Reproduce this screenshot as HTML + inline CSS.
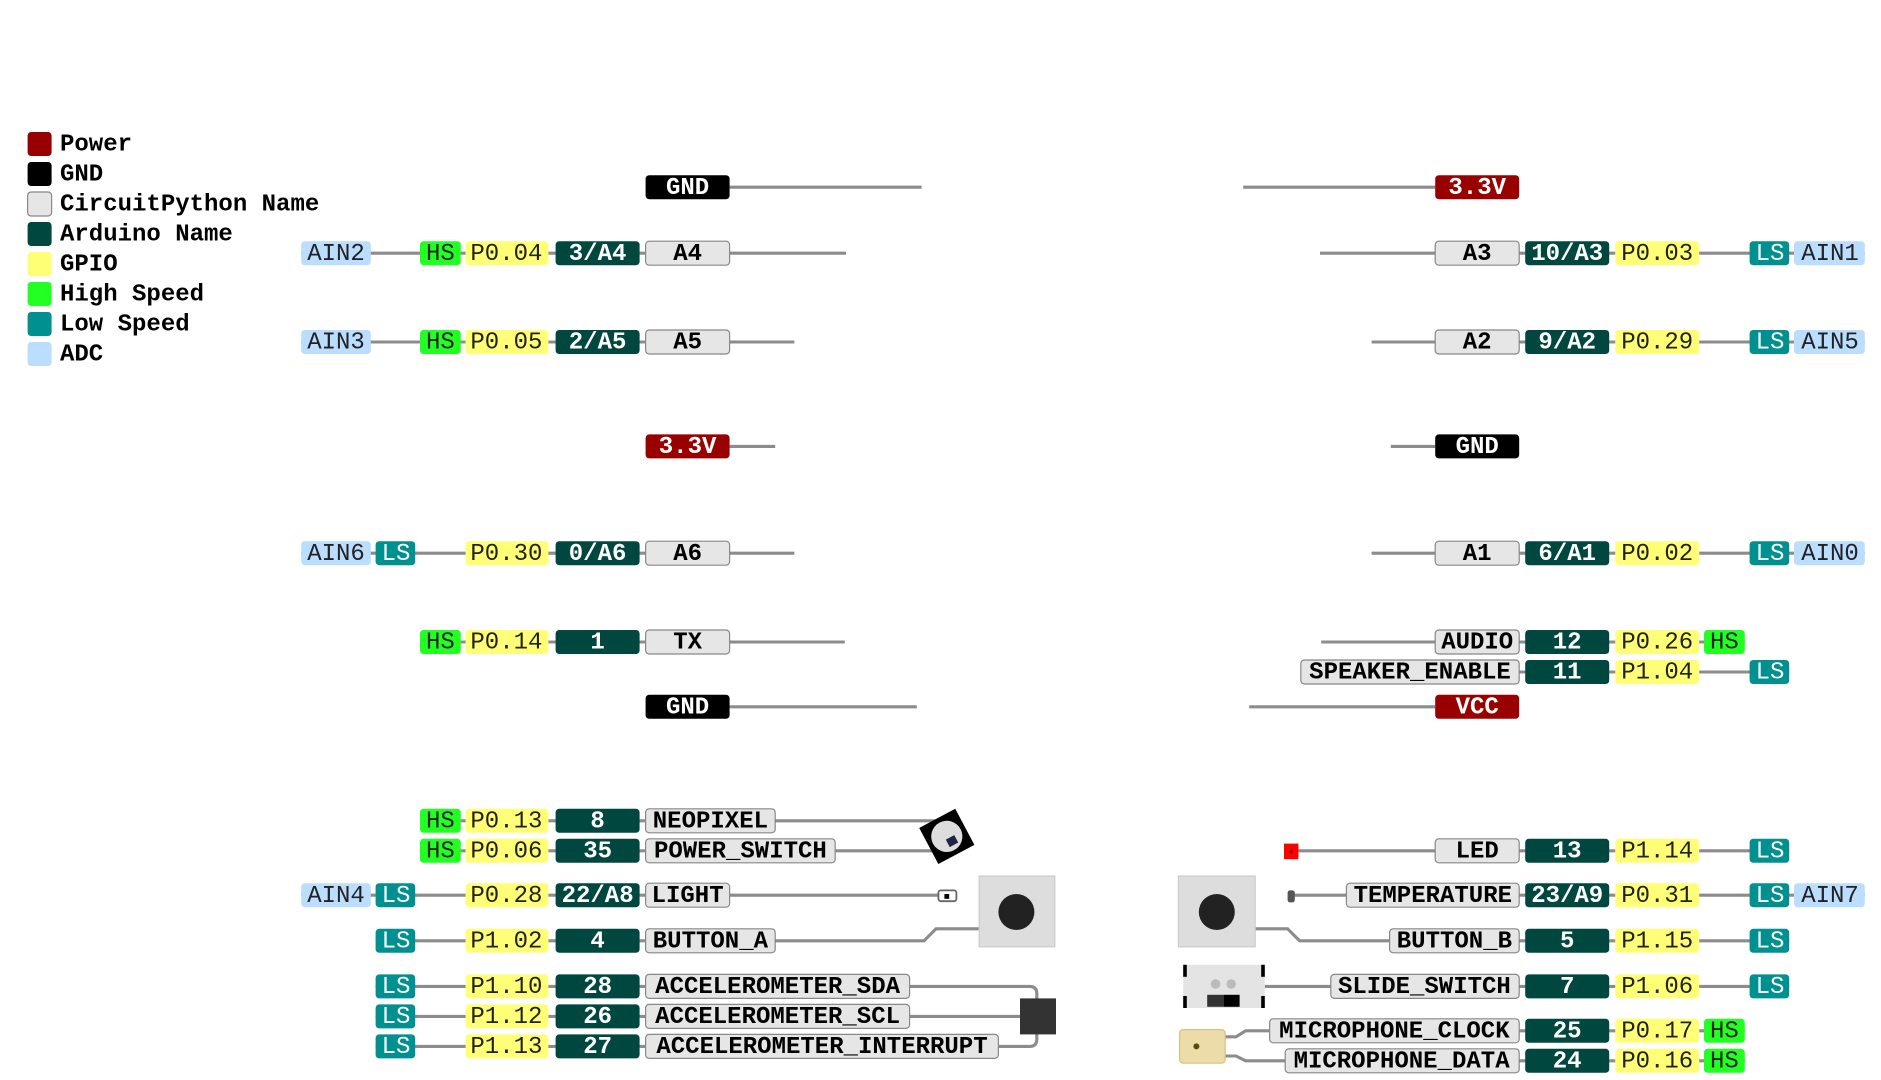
<!DOCTYPE html>
<html><head><meta charset="utf-8"><style>
html,body{margin:0;padding:0;background:#fff;}
svg{display:block}
text{font-family:"Liberation Mono",monospace;font-size:20px;text-anchor:middle;dominant-baseline:central}
.b{font-weight:bold}
.w{fill:#fff}
.k{fill:#000}
.d{fill:#222}
.l{stroke:#8c8c8c;stroke-width:2.6;fill:none}
.leg text{text-anchor:start;font-weight:bold}
</style></head><body>
<svg width="1881" height="1080" viewBox="0 0 1567.5 900" xmlns="http://www.w3.org/2000/svg">
<!-- legend -->
<g class="leg">
<rect x="23" y="110" width="20" height="20" rx="3" fill="#900"/><text x="50" y="121">Power</text>
<rect x="23" y="135" width="20" height="20" rx="3" fill="#000"/><text x="50" y="146">GND</text>
<rect x="23" y="160" width="20" height="20" rx="3" fill="#e6e6e6" stroke="#888"/><text x="50" y="171">CircuitPython Name</text>
<rect x="23" y="185" width="20" height="20" rx="3" fill="#00473f"/><text x="50" y="196">Arduino Name</text>
<rect x="23" y="210" width="20" height="20" rx="3" fill="#ffff77"/><text x="50" y="221">GPIO</text>
<rect x="23" y="235" width="20" height="20" rx="3" fill="#22ff22"/><text x="50" y="246">High Speed</text>
<rect x="23" y="260" width="20" height="20" rx="3" fill="#009090"/><text x="50" y="271">Low Speed</text>
<rect x="23" y="285" width="20" height="20" rx="3" fill="#bbddff"/><text x="50" y="296">ADC</text>
</g>

<!-- lines -->
<path class="l" d="M608,156H768 M251,211H705 M251,285H662 M608,372H646 M251,461H662 M350,535H704 M608,589H764
M350,684H780 M350,709H780 M251,746H785 M313,784H770L780,774H816
M313,822H858Q864,822 864,828V836 M313,847H852 M313,872H858Q864,872 864,866V858
M1036,156H1196 M1100,211H1554 M1143,285H1554 M1159,372H1196 M1143,461H1554 M1101,535H1454 M1084,560H1491 M1041,589H1196
M1076,709H1491 M1076,746H1554 M1046,774H1073L1083,784H1491 M1054,822H1491
M1021,864H1030L1038,859H1454 M1021,880H1030L1038,884H1454"/>

<!-- left column -->
<g>
<rect x="538" y="146" width="70" height="20" rx="3" fill="#000"/><text x="573" y="157" class="b w">GND</text>

<rect x="251" y="201" width="58" height="20" rx="3" fill="#bbddff"/><text x="280" y="212" class="d">AIN2</text>
<rect x="350" y="201" width="34" height="20" rx="3" fill="#22ff22"/><text x="367" y="212" class="d">HS</text>
<rect x="388" y="201" width="69" height="20" rx="3" fill="#ffff77"/><text x="422" y="212" class="d">P0.04</text>
<rect x="463" y="201" width="70" height="20" rx="3" fill="#00473f"/><text x="498" y="212" class="b w">3/A4</text>
<rect x="538" y="201" width="70" height="20" rx="3" fill="#e6e6e6" stroke="#888"/><text x="573" y="212" class="b k">A4</text>

<rect x="251" y="275" width="58" height="20" rx="3" fill="#bbddff"/><text x="280" y="286" class="d">AIN3</text>
<rect x="350" y="275" width="34" height="20" rx="3" fill="#22ff22"/><text x="367" y="286" class="d">HS</text>
<rect x="388" y="275" width="69" height="20" rx="3" fill="#ffff77"/><text x="422" y="286" class="d">P0.05</text>
<rect x="463" y="275" width="70" height="20" rx="3" fill="#00473f"/><text x="498" y="286" class="b w">2/A5</text>
<rect x="538" y="275" width="70" height="20" rx="3" fill="#e6e6e6" stroke="#888"/><text x="573" y="286" class="b k">A5</text>

<rect x="538" y="362" width="70" height="20" rx="3" fill="#900"/><text x="573" y="373" class="b w">3.3V</text>

<rect x="251" y="451" width="58" height="20" rx="3" fill="#bbddff"/><text x="280" y="462" class="d">AIN6</text>
<rect x="313" y="451" width="33" height="20" rx="3" fill="#009090"/><text x="330" y="462" class="w">LS</text>
<rect x="388" y="451" width="69" height="20" rx="3" fill="#ffff77"/><text x="422" y="462" class="d">P0.30</text>
<rect x="463" y="451" width="70" height="20" rx="3" fill="#00473f"/><text x="498" y="462" class="b w">0/A6</text>
<rect x="538" y="451" width="70" height="20" rx="3" fill="#e6e6e6" stroke="#888"/><text x="573" y="462" class="b k">A6</text>

<rect x="350" y="525" width="34" height="20" rx="3" fill="#22ff22"/><text x="367" y="536" class="d">HS</text>
<rect x="388" y="525" width="69" height="20" rx="3" fill="#ffff77"/><text x="422" y="536" class="d">P0.14</text>
<rect x="463" y="525" width="70" height="20" rx="3" fill="#00473f"/><text x="498" y="536" class="b w">1</text>
<rect x="538" y="525" width="70" height="20" rx="3" fill="#e6e6e6" stroke="#888"/><text x="573" y="536" class="b k">TX</text>

<rect x="538" y="579" width="70" height="20" rx="3" fill="#000"/><text x="573" y="590" class="b w">GND</text>

<rect x="350" y="674" width="34" height="20" rx="3" fill="#22ff22"/><text x="367" y="685" class="d">HS</text>
<rect x="388" y="674" width="69" height="20" rx="3" fill="#ffff77"/><text x="422" y="685" class="d">P0.13</text>
<rect x="463" y="674" width="70" height="20" rx="3" fill="#00473f"/><text x="498" y="685" class="b w">8</text>
<rect x="538" y="674" width="108" height="20" rx="3" fill="#e6e6e6" stroke="#888"/><text x="592" y="685" class="b k">NEOPIXEL</text>

<rect x="350" y="699" width="34" height="20" rx="3" fill="#22ff22"/><text x="367" y="710" class="d">HS</text>
<rect x="388" y="699" width="69" height="20" rx="3" fill="#ffff77"/><text x="422" y="710" class="d">P0.06</text>
<rect x="463" y="699" width="70" height="20" rx="3" fill="#00473f"/><text x="498" y="710" class="b w">35</text>
<rect x="538" y="699" width="158" height="20" rx="3" fill="#e6e6e6" stroke="#888"/><text x="617" y="710" class="b k">POWER_SWITCH</text>

<rect x="251" y="736" width="58" height="20" rx="3" fill="#bbddff"/><text x="280" y="747" class="d">AIN4</text>
<rect x="313" y="736" width="33" height="20" rx="3" fill="#009090"/><text x="330" y="747" class="w">LS</text>
<rect x="388" y="736" width="69" height="20" rx="3" fill="#ffff77"/><text x="422" y="747" class="d">P0.28</text>
<rect x="463" y="736" width="70" height="20" rx="3" fill="#00473f"/><text x="498" y="747" class="b w">22/A8</text>
<rect x="538" y="736" width="70" height="20" rx="3" fill="#e6e6e6" stroke="#888"/><text x="573" y="747" class="b k">LIGHT</text>

<rect x="313" y="774" width="33" height="20" rx="3" fill="#009090"/><text x="330" y="785" class="w">LS</text>
<rect x="388" y="774" width="69" height="20" rx="3" fill="#ffff77"/><text x="422" y="785" class="d">P1.02</text>
<rect x="463" y="774" width="70" height="20" rx="3" fill="#00473f"/><text x="498" y="785" class="b w">4</text>
<rect x="538" y="774" width="108" height="20" rx="3" fill="#e6e6e6" stroke="#888"/><text x="592" y="785" class="b k">BUTTON_A</text>

<rect x="313" y="812" width="33" height="20" rx="3" fill="#009090"/><text x="330" y="823" class="w">LS</text>
<rect x="388" y="812" width="69" height="20" rx="3" fill="#ffff77"/><text x="422" y="823" class="d">P1.10</text>
<rect x="463" y="812" width="70" height="20" rx="3" fill="#00473f"/><text x="498" y="823" class="b w">28</text>
<rect x="538" y="812" width="220" height="20" rx="3" fill="#e6e6e6" stroke="#888"/><text x="648" y="823" class="b k">ACCELEROMETER_SDA</text>

<rect x="313" y="837" width="33" height="20" rx="3" fill="#009090"/><text x="330" y="848" class="w">LS</text>
<rect x="388" y="837" width="69" height="20" rx="3" fill="#ffff77"/><text x="422" y="848" class="d">P1.12</text>
<rect x="463" y="837" width="70" height="20" rx="3" fill="#00473f"/><text x="498" y="848" class="b w">26</text>
<rect x="538" y="837" width="220" height="20" rx="3" fill="#e6e6e6" stroke="#888"/><text x="648" y="848" class="b k">ACCELEROMETER_SCL</text>

<rect x="313" y="862" width="33" height="20" rx="3" fill="#009090"/><text x="330" y="873" class="w">LS</text>
<rect x="388" y="862" width="69" height="20" rx="3" fill="#ffff77"/><text x="422" y="873" class="d">P1.13</text>
<rect x="463" y="862" width="70" height="20" rx="3" fill="#00473f"/><text x="498" y="873" class="b w">27</text>
<rect x="538" y="862" width="294" height="20" rx="3" fill="#e6e6e6" stroke="#888"/><text x="685" y="873" class="b k">ACCELEROMETER_INTERRUPT</text>
</g>

<!-- left components -->
<g transform="translate(789,697) rotate(-28)"><rect x="-17" y="-17" width="34" height="34" fill="#000"/><circle r="13" fill="#ddd"/><rect x="-2" y="2" width="8" height="7" fill="#224"/></g>
<rect x="782" y="742" width="15" height="9" rx="2" fill="#fff" stroke="#666" stroke-width="1.5"/><rect x="787" y="745" width="4" height="4" fill="#000"/>
<rect x="816" y="730" width="63" height="59" fill="#ddd" stroke="#ccc"/><circle cx="847" cy="760" r="15" fill="#222"/>
<rect x="850" y="832" width="30" height="30" fill="#333"/>

<!-- right column -->
<g>
<rect x="1196" y="146" width="70" height="20" rx="3" fill="#900"/><text x="1231" y="157" class="b w">3.3V</text>

<rect x="1196" y="201" width="70" height="20" rx="3" fill="#e6e6e6" stroke="#888"/><text x="1231" y="212" class="b k">A3</text>
<rect x="1271" y="201" width="70" height="20" rx="3" fill="#00473f"/><text x="1306" y="212" class="b w">10/A3</text>
<rect x="1346" y="201" width="70" height="20" rx="3" fill="#ffff77"/><text x="1381" y="212" class="d">P0.03</text>
<rect x="1458" y="201" width="33" height="20" rx="3" fill="#009090"/><text x="1475" y="212" class="w">LS</text>
<rect x="1495" y="201" width="59" height="20" rx="3" fill="#bbddff"/><text x="1525" y="212" class="d">AIN1</text>

<rect x="1196" y="275" width="70" height="20" rx="3" fill="#e6e6e6" stroke="#888"/><text x="1231" y="286" class="b k">A2</text>
<rect x="1271" y="275" width="70" height="20" rx="3" fill="#00473f"/><text x="1306" y="286" class="b w">9/A2</text>
<rect x="1346" y="275" width="70" height="20" rx="3" fill="#ffff77"/><text x="1381" y="286" class="d">P0.29</text>
<rect x="1458" y="275" width="33" height="20" rx="3" fill="#009090"/><text x="1475" y="286" class="w">LS</text>
<rect x="1495" y="275" width="59" height="20" rx="3" fill="#bbddff"/><text x="1525" y="286" class="d">AIN5</text>

<rect x="1196" y="362" width="70" height="20" rx="3" fill="#000"/><text x="1231" y="373" class="b w">GND</text>

<rect x="1196" y="451" width="70" height="20" rx="3" fill="#e6e6e6" stroke="#888"/><text x="1231" y="462" class="b k">A1</text>
<rect x="1271" y="451" width="70" height="20" rx="3" fill="#00473f"/><text x="1306" y="462" class="b w">6/A1</text>
<rect x="1346" y="451" width="70" height="20" rx="3" fill="#ffff77"/><text x="1381" y="462" class="d">P0.02</text>
<rect x="1458" y="451" width="33" height="20" rx="3" fill="#009090"/><text x="1475" y="462" class="w">LS</text>
<rect x="1495" y="451" width="59" height="20" rx="3" fill="#bbddff"/><text x="1525" y="462" class="d">AIN0</text>

<rect x="1196" y="525" width="70" height="20" rx="3" fill="#e6e6e6" stroke="#888"/><text x="1231" y="536" class="b k">AUDIO</text>
<rect x="1271" y="525" width="70" height="20" rx="3" fill="#00473f"/><text x="1306" y="536" class="b w">12</text>
<rect x="1346" y="525" width="70" height="20" rx="3" fill="#ffff77"/><text x="1381" y="536" class="d">P0.26</text>
<rect x="1420" y="525" width="34" height="20" rx="3" fill="#22ff22"/><text x="1437" y="536" class="d">HS</text>

<rect x="1084" y="550" width="182" height="20" rx="3" fill="#e6e6e6" stroke="#888"/><text x="1175" y="561" class="b k">SPEAKER_ENABLE</text>
<rect x="1271" y="550" width="70" height="20" rx="3" fill="#00473f"/><text x="1306" y="561" class="b w">11</text>
<rect x="1346" y="550" width="70" height="20" rx="3" fill="#ffff77"/><text x="1381" y="561" class="d">P1.04</text>
<rect x="1458" y="550" width="33" height="20" rx="3" fill="#009090"/><text x="1475" y="561" class="w">LS</text>

<rect x="1196" y="579" width="70" height="20" rx="3" fill="#900"/><text x="1231" y="590" class="b w">VCC</text>

<rect x="1196" y="699" width="70" height="20" rx="3" fill="#e6e6e6" stroke="#888"/><text x="1231" y="710" class="b k">LED</text>
<rect x="1271" y="699" width="70" height="20" rx="3" fill="#00473f"/><text x="1306" y="710" class="b w">13</text>
<rect x="1346" y="699" width="70" height="20" rx="3" fill="#ffff77"/><text x="1381" y="710" class="d">P1.14</text>
<rect x="1458" y="699" width="33" height="20" rx="3" fill="#009090"/><text x="1475" y="710" class="w">LS</text>

<rect x="1122" y="736" width="144" height="20" rx="3" fill="#e6e6e6" stroke="#888"/><text x="1194" y="747" class="b k">TEMPERATURE</text>
<rect x="1271" y="736" width="70" height="20" rx="3" fill="#00473f"/><text x="1306" y="747" class="b w">23/A9</text>
<rect x="1346" y="736" width="70" height="20" rx="3" fill="#ffff77"/><text x="1381" y="747" class="d">P0.31</text>
<rect x="1458" y="736" width="33" height="20" rx="3" fill="#009090"/><text x="1475" y="747" class="w">LS</text>
<rect x="1495" y="736" width="59" height="20" rx="3" fill="#bbddff"/><text x="1525" y="747" class="d">AIN7</text>

<rect x="1158" y="774" width="108" height="20" rx="3" fill="#e6e6e6" stroke="#888"/><text x="1212" y="785" class="b k">BUTTON_B</text>
<rect x="1271" y="774" width="70" height="20" rx="3" fill="#00473f"/><text x="1306" y="785" class="b w">5</text>
<rect x="1346" y="774" width="70" height="20" rx="3" fill="#ffff77"/><text x="1381" y="785" class="d">P1.15</text>
<rect x="1458" y="774" width="33" height="20" rx="3" fill="#009090"/><text x="1475" y="785" class="w">LS</text>

<rect x="1109" y="812" width="157" height="20" rx="3" fill="#e6e6e6" stroke="#888"/><text x="1187" y="823" class="b k">SLIDE_SWITCH</text>
<rect x="1271" y="812" width="70" height="20" rx="3" fill="#00473f"/><text x="1306" y="823" class="b w">7</text>
<rect x="1346" y="812" width="70" height="20" rx="3" fill="#ffff77"/><text x="1381" y="823" class="d">P1.06</text>
<rect x="1458" y="812" width="33" height="20" rx="3" fill="#009090"/><text x="1475" y="823" class="w">LS</text>

<rect x="1058" y="849" width="208" height="20" rx="3" fill="#e6e6e6" stroke="#888"/><text x="1162" y="860" class="b k">MICROPHONE_CLOCK</text>
<rect x="1271" y="849" width="70" height="20" rx="3" fill="#00473f"/><text x="1306" y="860" class="b w">25</text>
<rect x="1346" y="849" width="70" height="20" rx="3" fill="#ffff77"/><text x="1381" y="860" class="d">P0.17</text>
<rect x="1420" y="849" width="34" height="20" rx="3" fill="#22ff22"/><text x="1437" y="860" class="d">HS</text>

<rect x="1071" y="874" width="195" height="20" rx="3" fill="#e6e6e6" stroke="#888"/><text x="1168" y="885" class="b k">MICROPHONE_DATA</text>
<rect x="1271" y="874" width="70" height="20" rx="3" fill="#00473f"/><text x="1306" y="885" class="b w">24</text>
<rect x="1346" y="874" width="70" height="20" rx="3" fill="#ffff77"/><text x="1381" y="885" class="d">P0.16</text>
<rect x="1420" y="874" width="34" height="20" rx="3" fill="#22ff22"/><text x="1437" y="885" class="d">HS</text>
</g>

<!-- right components -->
<rect x="1070" y="703" width="12" height="13" fill="#f00"/><circle cx="1076" cy="710" r="1.5" fill="#800"/>
<rect x="1073" y="742" width="6" height="10" rx="2" fill="#555"/>
<rect x="982" y="730" width="64" height="59" fill="#ddd" stroke="#ccc"/><circle cx="1014" cy="760" r="15" fill="#222"/>
<rect x="986" y="804" width="68" height="36" fill="#e4e4e4"/>
<rect x="986" y="804" width="3" height="10" fill="#000"/><rect x="1051" y="804" width="3" height="10" fill="#000"/>
<rect x="986" y="830" width="3" height="10" fill="#000"/><rect x="1051" y="830" width="3" height="10" fill="#000"/>
<circle cx="1013" cy="820" r="4" fill="#bbb"/><circle cx="1026" cy="820" r="4" fill="#bbb"/>
<rect x="1006" y="829" width="14" height="10" fill="#333"/><rect x="1020" y="829" width="13" height="10" fill="#000"/>
<rect x="983" y="858" width="38" height="28" rx="3" fill="#ebdcaa" stroke="#d9c37a"/><circle cx="997" cy="872" r="2.5" fill="#5a4a10"/>
</svg>
</body></html>
